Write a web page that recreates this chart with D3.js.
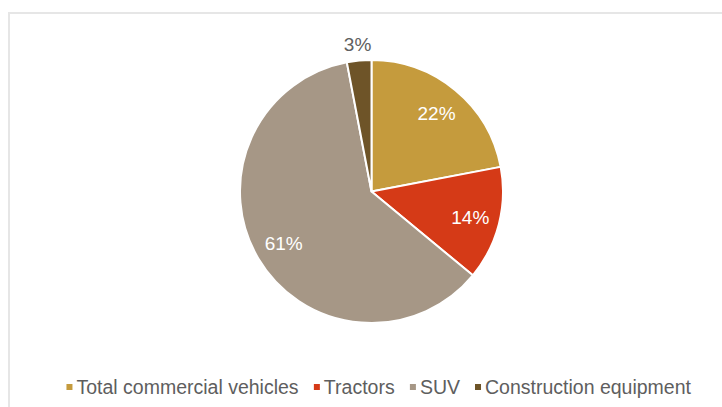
<!DOCTYPE html>
<html>
<head>
<meta charset="utf-8">
<script src="https://cdn.jsdelivr.net/npm/d3@7"></script>
<style>
  html, body { margin: 0; padding: 0; background: #ffffff; }
  svg { display: block; font-family: "Liberation Sans", Arial, sans-serif; }
</style>
</head>
<body>
<svg id="chart" width="722" height="407"></svg>
<script>
// Share of segments (percent)
const categories = ["Total commercial vehicles", "Tractors", "SUV", "Construction equipment"];
const shares = [22, 14, 61, 3];
const sliceColors = ["#c59b3d", "#d53a17", "#a69786", "#6e5428"];
const labelColors = ["#ffffff", "#ffffff", "#ffffff", "#606060"];

const svg = d3.select("#chart");
const W = 722, H = 407;

// Chart frame (only the top and left edges fall inside the window)
svg.append("rect")
  .attr("x", 9).attr("y", 13)
  .attr("width", W + 20).attr("height", H + 20)
  .attr("fill", "none")
  .attr("stroke", "#e6e6e6")
  .attr("stroke-width", 2);

const cx = 371.5, cy = 191.5, R = 131.5;

const data = categories.map((c, i) => ({ name: c, value: shares[i], color: sliceColors[i], label: labelColors[i] }));

const pie = d3.pie().value(d => d.value).sort(null);
const arcs = pie(data);

const arc = d3.arc().innerRadius(0).outerRadius(R);
const inLabel = d3.arc().innerRadius(102).outerRadius(102);
const outLabel = d3.arc().innerRadius(148).outerRadius(148);

const g = svg.append("g").attr("transform", `translate(${cx},${cy})`);

g.selectAll("path.slice")
  .data(arcs)
  .join("path")
  .attr("class", "slice")
  .attr("d", arc)
  .attr("fill", d => d.data.color)
  .attr("stroke", "#ffffff")
  .attr("stroke-width", 2)
  .attr("stroke-linejoin", "round");

g.selectAll("text.val")
  .data(arcs)
  .join("text")
  .attr("class", "val")
  .attr("transform", d => {
    const p = (d.data.value < 5 ? outLabel : inLabel).centroid(d);
    return `translate(${p[0]},${p[1]})`;
  })
  .attr("text-anchor", "middle")
  .attr("dy", "0.35em")
  .attr("font-size", 19)
  .attr("fill", d => d.data.label)
  .text(d => d3.format(".0f")(d.data.value) + "%");

// Legend, centred below the pie
const legend = svg.append("g");
const fontSize = 19.5, marker = 6, markerGap = 4, itemGap = 15, legendY = 387;
const items = legend.selectAll("g.item").data(data).join("g").attr("class", "item");
items.append("rect")
  .attr("width", marker).attr("height", marker)
  .attr("y", legendY - marker / 2)
  .attr("fill", d => d.color);
items.append("text")
  .attr("x", marker + markerGap)
  .attr("y", legendY)
  .attr("dy", "0.35em")
  .attr("font-size", fontSize)
  .attr("fill", "#5e5e5e")
  .text(d => d.name);

const widths = [];
items.each(function () {
  widths.push(this.getBBox().width);
});
const total = d3.sum(widths) + itemGap * (widths.length - 1);
let start = 379 - total / 2;
items.attr("transform", (d, i) => {
  const t = `translate(${start},0)`;
  start += widths[i] + itemGap;
  return t;
});
</script>
</body>
</html>
